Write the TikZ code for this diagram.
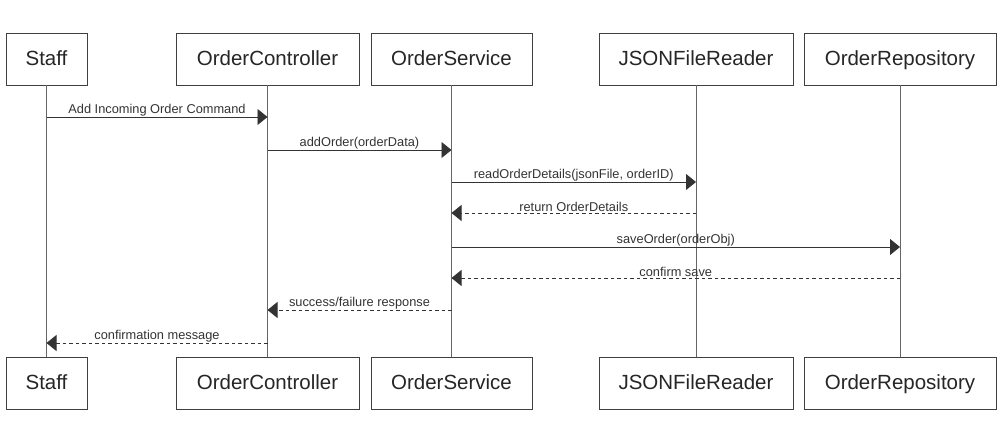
\documentclass[tikz,border=0pt]{standalone}
\usepackage{fontspec}
\setmainfont{Liberation Sans}
\usetikzlibrary{arrows.meta,positioning}

\tikzset{
	actor/.style={draw=black!75, fill=white, minimum height=52pt, inner sep=0pt,
		text height=15pt, text depth=2.3pt,
		font=\fontsize{20.5}{24}\selectfont, text=black!85},
	lifeline/.style={draw=black!60, line width=0.9pt},
	call/.style={draw=black!80, line width=0.9pt, -{Triangle[length=10pt,width=16pt]}},
	reply/.style={call, dash pattern=on 3.5pt off 3pt},
	msglabel/.style={above, inner sep=0.6pt, font=\fontsize{12.8}{15}\selectfont, text=black!80}
}

\begin{document}
\begin{tikzpicture}[x=1pt, y=-1pt]
		
		\useasboundingbox (0,0) rectangle (1004,422);
		
		% participants (top)
		\node[actor, minimum width=81pt]  (staffTop) at (46.5,59) {Staff};
		\node[actor, minimum width=183pt] (ctrlTop)  at (267.5,59) {OrderController};
		\node[actor, minimum width=161pt] (servTop)  at (451.5,59) {OrderService};
		\node[actor, minimum width=194pt] (jsonTop)  at (696,59) {JSONFileReader};
		\node[actor, minimum width=192pt] (repoTop)  at (900,59) {OrderRepository};
		
		% participants (bottom)
		\node[actor, minimum width=81pt]  (staffBot) at (46.5,383.5) {Staff};
		\node[actor, minimum width=183pt] (ctrlBot)  at (267.5,383.5) {OrderController};
		\node[actor, minimum width=161pt] (servBot)  at (451.5,383.5) {OrderService};
		\node[actor, minimum width=194pt] (jsonBot)  at (696,383.5) {JSONFileReader};
		\node[actor, minimum width=192pt] (repoBot)  at (900,383.5) {OrderRepository};
		
		% lifelines
		\draw[lifeline] (staffTop) -- (staffBot);
		\draw[lifeline] (ctrlTop) -- (ctrlBot);
		\draw[lifeline] (servTop) -- (servBot);
		\draw[lifeline] (jsonTop) -- (jsonBot);
		\draw[lifeline] (repoTop) -- (repoBot);
		
		% messages
		\draw[call] (staffTop |- 0,117) -- node[msglabel] {Add Incoming Order Command} (ctrlTop |- 0,117);
		\draw[call] (ctrlTop |- 0,150) -- node[msglabel] {addOrder(orderData)} (servTop |- 0,150);
		\draw[call] (servTop |- 0,182) -- node[msglabel] {readOrderDetails(jsonFile, orderID)} (jsonTop |- 0,182);
		\draw[reply] (jsonTop |- 0,213) -- node[msglabel] {return OrderDetails} (servTop |- 0,213);
		\draw[call] (servTop |- 0,247) -- node[msglabel] {saveOrder(orderObj)} (repoTop |- 0,247);
		\draw[reply] (repoTop |- 0,278) -- node[msglabel] {confirm save} (servTop |- 0,278);
		\draw[reply] (servTop |- 0,310) -- node[msglabel] {success/failure response} (ctrlTop |- 0,310);
		\draw[reply] (ctrlTop |- 0,343) -- node[msglabel] {confirmation message} (staffTop |- 0,343);
		
\end{tikzpicture}
\end{document}
